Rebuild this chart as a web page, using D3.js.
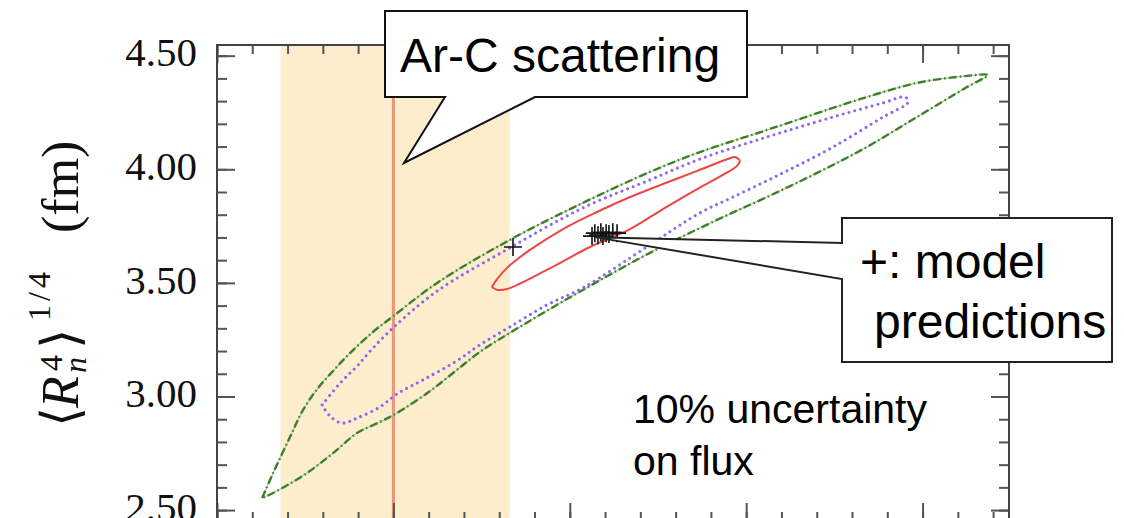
<!DOCTYPE html>
<html>
<head>
<meta charset="utf-8">
<script src="https://cdn.jsdelivr.net/npm/d3@7"></script>
<style>
body { margin: 0; background: #fff; }
svg { display: block; }
.tick-label { font-family: "Liberation Serif", "DejaVu Serif", serif; font-size: 41px; fill: #111; }
.note { font-family: "Liberation Sans", Arial, sans-serif; font-size: 48px; fill: #000; }
.small-note { font-family: "Liberation Sans", Arial, sans-serif; font-size: 41px; fill: #000; }
.ylabel { font-family: "Liberation Serif", "DejaVu Serif", serif; font-size: 52px; fill: #111; }
</style>
</head>
<body>
<svg id="chart" width="1124" height="518"></svg>
<script>
// axis limits and ticks
var xLimits = [2.5, 4.745];
var yLimits = [2.452, 4.547];
var xMajor = [2.5, 3.0, 3.5, 4.0, 4.5];
var xMinor = d3.range(25, 48).map(function(d) { return d / 10; });
var yMajor = [2.5, 3.0, 3.5, 4.0, 4.5];
var yMinor = d3.range(25, 46).map(function(d) { return d / 10; });
var yTickLabels = ['2.50', '3.00', '3.50', '4.00', '4.50'];

// Ar-C scattering constraint
var arcBand = [2.68, 3.33];
var arcValue = 3.0;

// contours (R2^(1/2), R4^(1/4))
var outerContour = [
	[2.628, 2.553], [2.659, 2.663], [2.707, 2.822], [2.744, 2.941], [2.786, 3.037],
	[2.829, 3.112], [2.877, 3.191], [2.942, 3.284], [3.000, 3.354], [3.124, 3.500],
	[3.330, 3.689], [3.537, 3.852], [3.727, 3.988], [3.869, 4.076], [4.059, 4.173],
	[4.246, 4.270], [4.342, 4.318], [4.484, 4.380], [4.626, 4.411], [4.685, 4.415],
	[4.626, 4.362], [4.484, 4.230], [4.342, 4.098], [4.201, 3.984], [4.059, 3.878],
	[3.917, 3.777], [3.727, 3.632], [3.537, 3.469], [3.330, 3.280], [3.245, 3.196],
	[3.180, 3.117], [3.104, 3.024], [3.010, 2.927], [2.962, 2.888], [2.897, 2.839],
	[2.829, 2.751], [2.755, 2.663], [2.659, 2.575], [2.628, 2.553]
];
var middleContour = [
	[2.798, 2.963], [2.849, 3.059], [2.897, 3.134], [2.942, 3.213], [2.999, 3.302],
	[3.124, 3.464], [3.330, 3.654], [3.537, 3.830], [3.727, 3.953], [3.869, 4.045],
	[4.059, 4.142], [4.246, 4.230], [4.388, 4.292], [4.450, 4.318], [4.459, 4.296],
	[4.388, 4.230], [4.246, 4.098], [4.104, 3.984], [3.963, 3.878], [3.869, 3.808],
	[3.727, 3.667], [3.537, 3.478], [3.435, 3.403], [3.330, 3.306], [3.245, 3.227],
	[3.180, 3.157], [3.084, 3.073], [3.010, 3.011], [2.962, 2.954], [2.897, 2.905],
	[2.854, 2.883], [2.820, 2.914], [2.798, 2.963]
];
var innerContour = [
	[3.279, 3.482], [3.294, 3.517], [3.322, 3.566], [3.387, 3.645], [3.481, 3.737],
	[3.577, 3.812], [3.671, 3.878], [3.764, 3.935], [3.861, 3.993], [3.948, 4.045],
	[3.968, 4.054], [3.982, 4.037], [3.974, 4.015], [3.934, 3.975], [3.861, 3.913],
	[3.764, 3.825], [3.671, 3.737], [3.557, 3.658], [3.435, 3.557], [3.322, 3.473],
	[3.296, 3.469], [3.279, 3.482]
];

// model predictions (+)
var modelX = [3.339, 3.563, 3.571, 3.580, 3.588, 3.594, 3.603, 3.611, 3.622, 3.634];
var modelY = [3.658, 3.706, 3.719, 3.710, 3.723, 3.706, 3.719, 3.715, 3.723, 3.719];

var svg = d3.select('#chart');

var x = d3.scaleLinear().domain(xLimits).range([217, 1009]);
var y = d3.scaleLinear().domain(yLimits).range([521, 45]);

// band + line
svg.append('rect')
	.attr('x', x(arcBand[0]))
	.attr('y', y(yLimits[1]))
	.attr('width', x(arcBand[1]) - x(arcBand[0]))
	.attr('height', y(yLimits[0]) - y(yLimits[1]))
	.attr('fill', '#fcedcd');

svg.append('line')
	.attr('x1', x(arcValue)).attr('x2', x(arcValue))
	.attr('y1', y(yLimits[1])).attr('y2', y(yLimits[0]))
	.attr('stroke', '#f4917a')
	.attr('stroke-width', 3);

var contourLine = d3.line()
	.x(function(d) { return x(d[0]); })
	.y(function(d) { return y(d[1]); })
	.curve(d3.curveCatmullRom.alpha(0.5));

// outer: dash-dot green
svg.append('path')
	.attr('d', contourLine(outerContour))
	.attr('fill', 'none')
	.attr('stroke', '#a8cc98')
	.attr('stroke-width', 1.2);
svg.append('path')
	.attr('d', contourLine(outerContour))
	.attr('fill', 'none')
	.attr('stroke', '#3f7f2c')
	.attr('stroke-width', 2.4)
	.attr('stroke-dasharray', '8,3,1.5,3');

// middle: dotted purple
svg.append('path')
	.attr('d', contourLine(middleContour))
	.attr('fill', 'none')
	.attr('stroke', '#8a68f4')
	.attr('stroke-width', 3)
	.attr('stroke-linecap', 'round')
	.attr('stroke-dasharray', '0.01,6');

// inner: solid red
svg.append('path')
	.attr('d', contourLine(innerContour))
	.attr('fill', 'none')
	.attr('stroke', '#ee4545')
	.attr('stroke-width', 2);

// + markers
svg.selectAll('.model')
	.data(modelX)
	.enter()
	.append('path')
		.attr('class', 'model')
		.attr('d', function(d, i) {
			var px = x(d), py = y(modelY[i]);
			return 'M' + (px - 9) + ',' + py + 'H' + (px + 9) + 'M' + px + ',' + (py - 9) + 'V' + (py + 9);
		})
		.attr('stroke', '#111')
		.attr('stroke-width', 1.6);

// axes
function addAxis(axisFn, scale, values, size, pos, labels) {
	var a = axisFn(scale)
		.tickValues(values)
		.tickSize(-size)
		.tickPadding(20)
		.tickFormat(labels ? function(d, i) { return labels[i]; } : '');
	var g = svg.append('g').attr('transform', pos).call(a);
	g.select('.domain').remove();
	g.selectAll('line').attr('stroke', '#555').attr('stroke-width', 2);
	g.selectAll('text').attr('class', 'tick-label').attr('dy', '0.25em');
	return g;
}

addAxis(d3.axisLeft, y, yMinor, 10, 'translate(217,0)');
addAxis(d3.axisLeft, y, yMajor, 18, 'translate(217,0)', yTickLabels);
addAxis(d3.axisRight, y, yMinor, 10, 'translate(1009,0)');
addAxis(d3.axisRight, y, yMajor, 18, 'translate(1009,0)');
addAxis(d3.axisTop, x, xMinor, 9, 'translate(0,45)');
addAxis(d3.axisTop, x, xMajor, 18, 'translate(0,45)');
addAxis(d3.axisBottom, x, xMinor, 9, 'translate(0,521)');
addAxis(d3.axisBottom, x, xMajor, 18, 'translate(0,521)');

svg.append('rect')
	.attr('x', 217).attr('y', 45)
	.attr('width', 792).attr('height', 476)
	.attr('fill', 'none')
	.attr('stroke', '#444')
	.attr('stroke-width', 2);

// y label, rotated; x of each piece runs along the baseline
var yl = svg.append('text')
	.attr('class', 'ylabel')
	.attr('transform', 'translate(78,427) rotate(-90)');
yl.append('tspan').attr('x', 0).attr('y', 0).text('\u27E8');
yl.append('tspan').attr('x', 19).attr('y', 0).attr('font-style', 'italic').text('R');
yl.append('tspan').attr('x', 56).attr('y', -16).attr('font-size', 32).text('4');
yl.append('tspan').attr('x', 54).attr('y', 8).attr('font-size', 32).attr('font-style', 'italic').text('n');
yl.append('tspan').attr('x', 78).attr('y', 0).text('\u27E9');
yl.append('tspan').attr('x', 106).attr('y', -28).attr('font-size', 32).attr('letter-spacing', 4).text('1/4');
yl.append('tspan').attr('x', 194).attr('y', 0).text('(fm)');

// callouts
svg.append('path')
	.attr('d', 'M385,11H747V97H535L404,163L445,97H385Z')
	.attr('fill', '#fff')
	.attr('stroke', '#111')
	.attr('stroke-width', 2);
svg.append('text').attr('class', 'note').attr('x', 400).attr('y', 72).text('Ar-C scattering');

svg.append('path')
	.attr('d', 'M842,218H1112V362H842V279L' + x(modelX[2]) + ',' + (y(modelY[2]) + 4) + 'L842,243Z')
	.attr('fill', '#fff')
	.attr('stroke', '#222')
	.attr('stroke-width', 2);
svg.append('text').attr('class', 'note').attr('x', 860).attr('y', 278).text('+: model');
svg.append('text').attr('class', 'note').attr('x', 874).attr('y', 338).text('predictions');

svg.append('text').attr('class', 'small-note').attr('x', 633).attr('y', 423).text('10% uncertainty');
svg.append('text').attr('class', 'small-note').attr('x', 633).attr('y', 475).text('on flux');
</script>
</body>
</html>
